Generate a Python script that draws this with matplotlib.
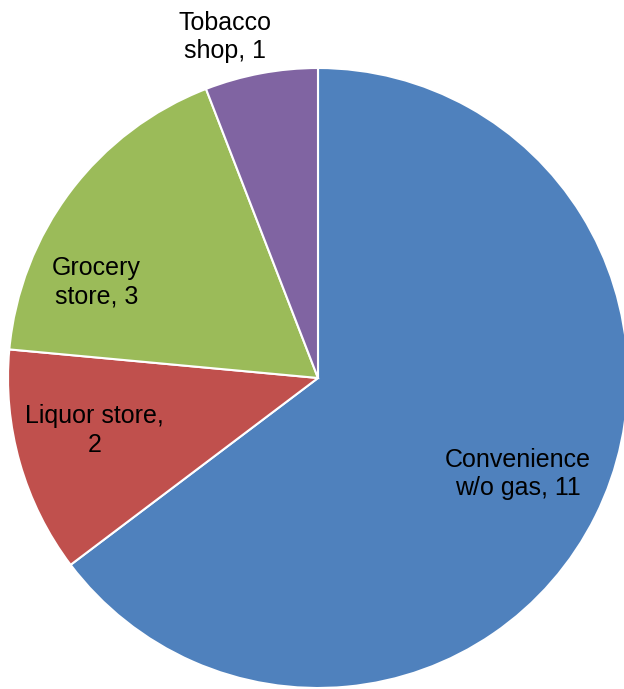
import matplotlib
matplotlib.use("Agg")
import matplotlib.pyplot as plt

# store types and counts
names = ["Convenience w/o gas", "Liquor store", "Grocery store", "Tobacco shop"]
counts = [11, 2, 3, 1]
colors = ["#4F81BD", "#C0504D", "#9BBB59", "#8064A2"]

label_text = ["Convenience\nw/o gas, 11", "Liquor store,\n2", "Grocery\nstore, 3", "Tobacco\nshop, 1"]
label_pos = [(0.645, -0.31), (-0.72, -0.17), (-0.715, 0.31), (-0.30, 1.10)]

plt.rcParams['font.family'] = ['Liberation Sans', 'DejaVu Sans']

fig = plt.figure(figsize=(6.24, 6.89), dpi=100)
cx, cy, r = 318, 378, 310
ax = fig.add_axes([(cx - r) / 624, (689 - cy - r) / 689, 2 * r / 624, 2 * r / 689])
ax.pie(counts, colors=colors, startangle=90, counterclock=False,
       wedgeprops=dict(edgecolor="white", linewidth=1.5), radius=1.0)
ax.set_xlim(-1, 1)
ax.set_ylim(-1, 1)
ax.set_aspect("equal")
ax.axis("off")

for txt, (x, y) in zip(label_text, label_pos):
    ax.text(x, y, txt, ha="center", va="center", fontsize=18, color="black",
            linespacing=1.25, clip_on=False)

fig.savefig("out.png", dpi=100)
